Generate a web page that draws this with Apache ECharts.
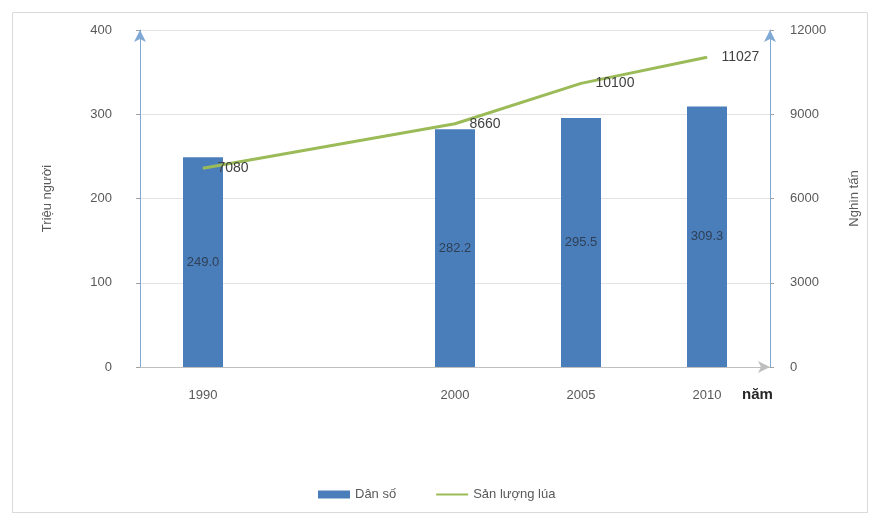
<!DOCTYPE html>
<html><head><meta charset="utf-8">
<script src="https://cdn.jsdelivr.net/npm/echarts@6/dist/echarts.min.js"></script>
<style>html,body{margin:0;padding:0;background:#fff}#c{width:871px;height:517px}</style>
</head><body><div id="c"></div>
<script>
const years = [1990, 2000, 2005, 2010];
const population = [249.0, 282.2, 295.5, 309.3];
const popLabels = ['249.0', '282.2', '295.5', '309.3'];
const rice = [7080, 8660, 10100, 11027];
const leftTicks = [0, 100, 200, 300, 400];
const rightTicks = [0, 3000, 6000, 9000, 12000];

const chart = echarts.init(document.getElementById('c'));
const txt = '#595959';
const axisBlue = '#7fa9d4';
chart.setOption({
  animation: false,
  textStyle: {fontFamily: 'Liberation Sans, Arial, sans-serif'},
  grid: {left: 140, right: 101, top: 30, bottom: 150},
  legend: {
    left: 313, top: 483, itemGap: 40, itemWidth: 32, itemHeight: 8,
    textStyle: {color: txt, fontSize: 13},
    data: [{name: 'Dân số', icon: 'rect'},
           {name: 'Sản lượng lúa', icon: 'path://M0,3 L32,3 L32,5 L0,5 Z', itemStyle: {color: '#9bbb59'}}]
  },
  xAxis: {
    type: 'value', min: 1987.5, max: 2012.5,
    splitLine: {show: false},
    axisLine: {show: true, lineStyle: {color: '#bfbfbf'}, symbol: ['none', 'arrow'], symbolSize: [9, 12]},
    axisTick: {show: false},
    axisLabel: {customValues: years, color: txt, fontSize: 13, margin: 22, formatter: v => String(v)}
  },
  yAxis: [{
    type: 'value', min: 0, max: 400, interval: 100,
    name: 'Triệu người', nameLocation: 'middle', nameRotate: 90, nameGap: 86,
    nameTextStyle: {color: txt, fontSize: 13},
    axisLine: {show: true, lineStyle: {color: axisBlue}, symbol: ['none', 'arrow'], symbolSize: [9, 12]},
    axisTick: {show: true, length: 4, lineStyle: {color: '#a0a0a0'}},
    axisLabel: {color: txt, fontSize: 13, margin: 28, formatter: v => String(v)},
    splitLine: {lineStyle: {color: '#e3e3e3'}}
  }, {
    type: 'value', min: 0, max: 12000, interval: 3000, position: 'right',
    name: 'Nghìn tấn', nameLocation: 'middle', nameRotate: 90, nameGap: 78,
    nameTextStyle: {color: txt, fontSize: 13},
    axisLine: {show: true, lineStyle: {color: axisBlue}, symbol: ['none', 'arrow'], symbolSize: [9, 12]},
    axisTick: {show: true, length: 4, lineStyle: {color: '#a0a0a0'}},
    axisLabel: {color: txt, fontSize: 13, margin: 20, formatter: v => String(v)},
    splitLine: {show: false}
  }],
  series: [{
    name: 'Dân số', type: 'bar', yAxisIndex: 0, barWidth: 40,
    itemStyle: {color: '#4a7ebb'},
    label: {show: true, position: 'inside', color: '#2f3f55', fontSize: 13,
      formatter: p => popLabels[p.dataIndex]},
    data: years.map((y, i) => [y, population[i]])
  }, {
    name: 'Sản lượng lúa', type: 'line', yAxisIndex: 1,
    showSymbol: true, symbol: 'circle', symbolSize: 1,
    lineStyle: {color: '#9bbb59', width: 3},
    itemStyle: {color: '#9bbb59'},
    label: {show: true, position: 'right', color: '#404040', fontSize: 14, distance: 14,
      formatter: p => String(p.value[1])},
    data: years.map((y, i) => [y, rice[i]])
  }],
  graphic: [
    {type: 'rect', left: 10, top: 10, shape: {width: 855, height: 500}, style: {fill: 'none', stroke: '#d9d9d9', lineWidth: 1}, z: -1},
    {type: 'text', left: 742, top: 387, style: {text: 'năm', fill: '#262626', font: 'bold 15px Liberation Sans, Arial, sans-serif'}}
  ]
});
</script></body></html>
